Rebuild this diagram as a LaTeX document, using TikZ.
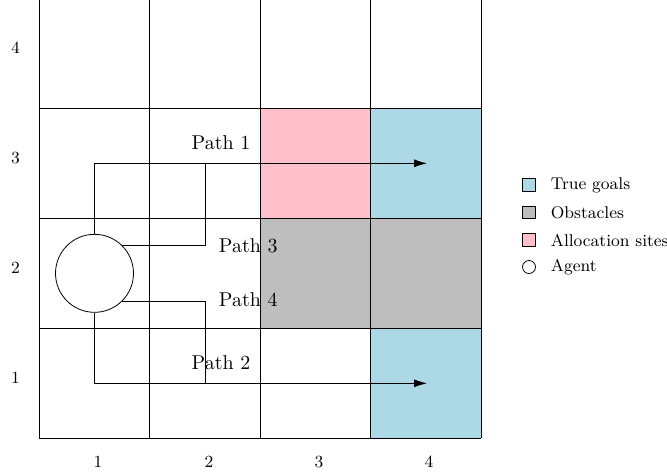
\documentclass[tikz,border=0pt]{standalone}
\usetikzlibrary{arrows.meta}
\definecolor{goalc}{RGB}{173,216,230}
\definecolor{obstc}{RGB}{190,190,190}
\definecolor{allocc}{RGB}{255,192,203}
\begin{document}
\begin{tikzpicture}[x=0.5pt,y=-0.5pt,
  gridline/.style={line width=0.45pt},
  arr/.style={-{Latex[length=6.5pt,width=4pt]}},
  lbl/.style={font=\fontsize{10}{12}\selectfont, inner sep=0},
  tick/.style={font=\fontsize{8.5}{10}\selectfont, inner sep=0},
  legtext/.style={font=\fontsize{8.5}{10}\selectfont, anchor=west, inner sep=0},
  legbox/.style={draw, minimum size=6.2pt, inner sep=0},
  agentnode/.style={circle, draw, minimum size=39pt, inner sep=0},
]
\useasboundingbox (0,0) rectangle (667,473);
% coloured cells
\fill[allocc] (260,108) rectangle (370.5,218);
\fill[goalc] (370.5,108) rectangle (481,218);
\fill[obstc] (260,218) rectangle (481,328);
\fill[goalc] (370.5,328) rectangle (481,438);
% grid
\foreach \x in {39,149.5,260,370.5,481} \draw[gridline] (\x,-5) -- (\x,438);
\foreach \y in {108,218,328,438} \draw[gridline] (39,\y) -- (481,\y);
% axis labels
\node[tick] (r4) at (15.5,48) {4};
\node[tick] (r3) at (15.5,158) {3};
\node[tick] (r2) at (15.5,268) {2};
\node[tick] (r1) at (15.5,378) {1};
\node[tick] (c1) at (98,462) {1};
\node[tick] (c2) at (209,462) {2};
\node[tick] (c3) at (319,462) {3};
\node[tick] (c4) at (429,462) {4};
% agent
\node[agentnode] (agent) at (94.5,273.3) {};
\coordinate (g1) at (427,163.3);
\coordinate (g2) at (427,383.3);
\coordinate (b3) at (205.3,163.3);
\coordinate (b4) at (205.3,383.3);
% paths
\draw[arr] (agent.north) |- (g1);
\draw (agent.45) -| (b3);
\draw (agent.-45) -| (b4);
\draw[arr] (agent.south) |- (g2);
% path labels
\node[lbl] (p1) at (221,143) {Path 1};
\node[lbl] (p3) at (248.3,246) {Path 3};
\node[lbl] (p4) at (248.3,300) {Path 4};
\node[lbl] (p2) at (221,363) {Path 2};
% legend
\node[legbox, fill=goalc] (l1) at (529,185) {};
\node[legbox, fill=obstc] (l2) at (529,212.5) {};
\node[legbox, fill=allocc] (l3) at (529,240) {};
\node[circle, draw, minimum size=6.5pt, inner sep=0] (l4) at (529,267) {};
\node[legtext] (t1) at (550.5,185) {True goals};
\node[legtext] (t2) at (550.5,212.5) {Obstacles};
\node[legtext] (t3) at (550.5,240) {Allocation sites};
\node[legtext] (t4) at (550.5,267) {Agent};
\end{tikzpicture}
\end{document}
